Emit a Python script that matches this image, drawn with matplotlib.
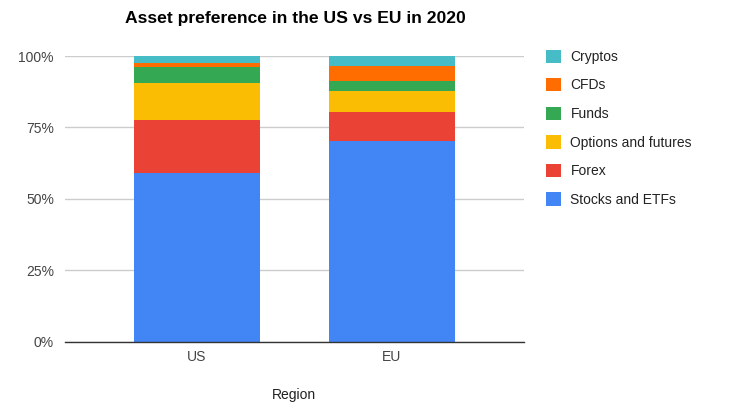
import matplotlib
matplotlib.use("Agg")
import matplotlib.pyplot as plt
from matplotlib.patches import Patch
import numpy as np

plt.rcParams['font.family'] = ['Liberation Sans', 'DejaVu Sans']

regions = ["US", "EU"]
series_names = ["Stocks and ETFs", "Forex", "Options and futures", "Funds", "CFDs", "Cryptos"]
stocks = [59.0, 70.3]
forex = [18.7, 10.2]
options = [12.9, 7.2]
funds = [5.5, 3.4]
cfds = [1.3, 5.5]
cryptos = [2.6, 3.4]
colors = ["#4285f4", "#ea4335", "#fbbc04", "#34a853", "#ff6d01", "#46bdc6"]

series = [stocks, forex, options, funds, cfds, cryptos]

fig = plt.figure(figsize=(7.29, 4.09), dpi=100)
ax = fig.add_axes([65/729, 1-341.5/409, (524-65)/729, (341.5-56)/409])

x = np.arange(len(regions))
bottom = np.zeros(len(regions))
total = np.array([sum(s[i] for s in series) for i in range(len(regions))])
for vals, c in zip(series, colors):
    frac = np.array(vals) / total
    ax.bar(x, frac, 0.65, bottom=bottom, color=c, edgecolor='none', zorder=3)
    bottom += frac

ax.set_xlim(-0.677, 1.677)
ax.set_ylim(0, 1)
ax.set_yticks([0, 0.25, 0.5, 0.75, 1.0])
ax.set_yticklabels(["0%", "25%", "50%", "75%", "100%"])
ax.set_xticks(x)
ax.set_xticklabels(regions)
ax.grid(axis='y', color='#cccccc', linewidth=1, zorder=0)
for s in ['top', 'right', 'left']:
    ax.spines[s].set_visible(False)
ax.spines['bottom'].set_color('#333333')
ax.spines['bottom'].set_linewidth(1)
ax.spines['bottom'].set_zorder(4)
ax.tick_params(axis='both', length=0, labelsize=10, colors='#444444')
ax.tick_params(axis='y', pad=8)
ax.tick_params(axis='x', pad=6)

fig.text(294/729, 1-395/409, "Region", ha='center', va='center',
         fontsize=10, color='#222222')

fig.text(295/729, 1-19/409, "Asset preference in the US vs EU in 2020",
         ha='center', va='center', fontsize=12.6, fontweight='bold', color='#000000')

handles = [Patch(facecolor=c, edgecolor='none') for c in colors][::-1]
labels = series_names[::-1]
leg = fig.legend(handles, labels, loc='upper left', bbox_to_anchor=(533/729, 1-37/409),
                 frameon=False, fontsize=10, handlelength=1.1, handleheight=1.1,
                 handletextpad=0.7, labelspacing=1.02, labelcolor='#222222')

fig.savefig("out.png", dpi=100)
